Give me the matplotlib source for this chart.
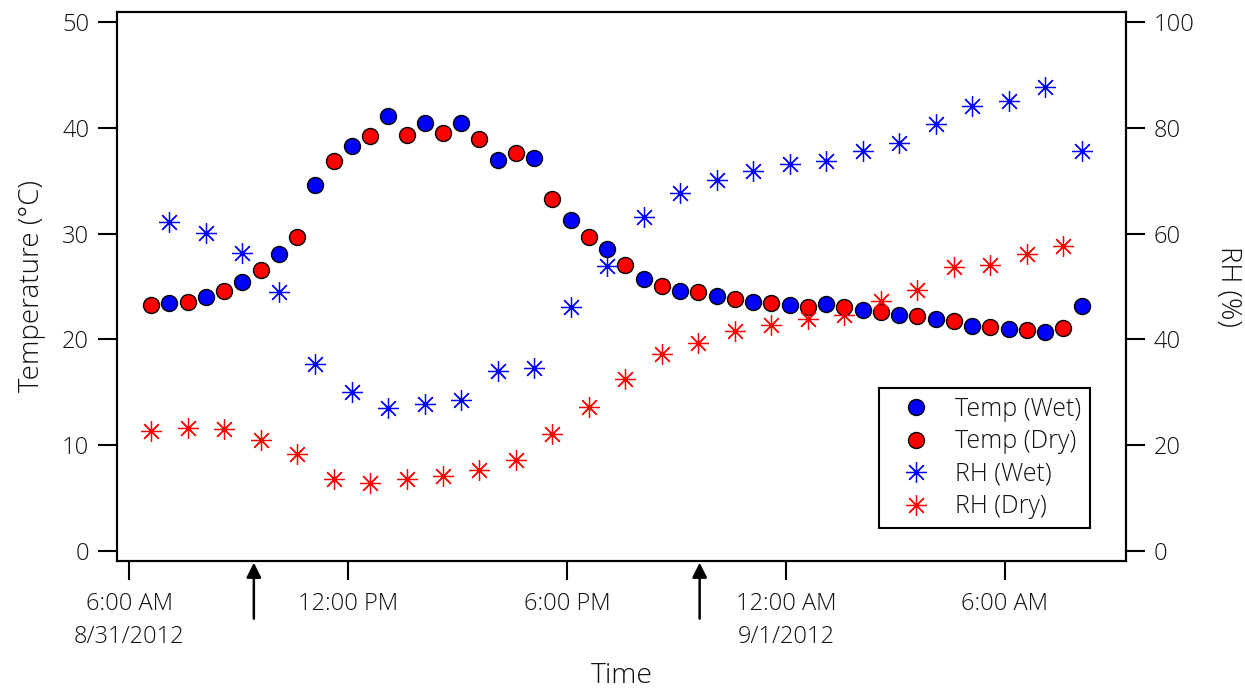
import matplotlib
matplotlib.use("Agg")
import matplotlib.pyplot as plt
import pandas as pd
from matplotlib.lines import Line2D

# ---------------- data ----------------
times_dry = pd.date_range("2012-08-31 06:36", periods=26, freq="1h")
times_wet = pd.date_range("2012-08-31 07:06", periods=26, freq="1h")

temp_wet = [23.4, 24.0, 25.4, 28.1, 34.6, 38.3, 41.1, 40.5, 40.5, 37.0, 37.1, 31.25,
            28.5, 25.7, 24.6, 24.1, 23.55, 23.25, 23.3, 22.8, 22.35, 21.9, 21.3, 21.0,
            20.7, 23.2]
temp_dry = [23.25, 23.5, 24.6, 26.6, 29.7, 36.9, 39.2, 39.3, 39.55, 38.9, 37.65, 33.3,
            29.7, 27.0, 25.05, 24.45, 23.8, 23.4, 23.1, 23.05, 22.6, 22.2, 21.7, 21.15,
            20.9, 21.05]
rh_wet = [62.1, 60.2, 56.4, 49.0, 35.3, 30.1, 27.0, 27.8, 28.5, 34.1, 34.6, 46.1,
          53.9, 63.2, 67.6, 70.1, 71.8, 73.2, 73.7, 75.6, 77.1, 80.8, 84.1, 85.0,
          87.8, 75.7]
rh_dry = [22.7, 23.25, 23.0, 21.0, 18.3, 13.7, 12.85, 13.6, 14.1, 15.3, 17.2, 22.2,
          27.2, 32.6, 37.3, 39.3, 41.5, 42.8, 43.9, 44.6, 47.3, 49.3, 53.6, 54.1,
          56.2, 57.7]

tick_times = pd.to_datetime(["2012-08-31 06:00", "2012-08-31 12:00", "2012-08-31 18:00",
                             "2012-09-01 00:00", "2012-09-01 06:00"])
tick_labels = ["6:00 AM\n8/31/2012", "12:00 PM", "6:00 PM", "12:00 AM\n9/1/2012", "6:00 AM"]
arrow_times = pd.to_datetime(["2012-08-31 09:25", "2012-08-31 21:38"])
x_range = pd.to_datetime(["2012-08-31 05:40", "2012-09-01 09:19"])

# ---------------- style ----------------
plt.rcParams['font.family'] = ['Open Sans', 'DejaVu Sans']
plt.rcParams['font.weight'] = 'light'
txt = '#111111'
plt.rcParams['text.color'] = txt
plt.rcParams['axes.labelcolor'] = txt
plt.rcParams['axes.labelweight'] = 'light'
plt.rcParams['xtick.color'] = 'black'
plt.rcParams['ytick.color'] = 'black'
plt.rcParams['xtick.labelcolor'] = txt
plt.rcParams['ytick.labelcolor'] = txt

BLUE = '#0000ff'
RED = '#ff0000'

fig = plt.figure(figsize=(12.45, 6.9), dpi=100)
ax = fig.add_axes([117/1245, 129/690, 1009/1245, 549/690])
ax2 = ax.twinx()

ms_c = 11.5
ms_s = 15
mew_s = 0.9
star = (8, 2, 0)

ax.plot(times_wet, temp_wet, 'o', ms=ms_c, mfc=BLUE, mec='black', mew=1.0, zorder=3)
ax.plot(times_dry, temp_dry, 'o', ms=ms_c, mfc=RED, mec='black', mew=1.0, zorder=3)
ax2.plot(times_wet, rh_wet, linestyle='none', marker=star, ms=ms_s, mec=BLUE, mew=mew_s)
ax2.plot(times_dry, rh_dry, linestyle='none', marker=star, ms=ms_s, mec=RED, mew=mew_s)

ax.set_xlim(x_range[0], x_range[1])
ax.set_ylim(-0.945, 50.945)
ax2.set_ylim(-1.89, 101.89)

ax.set_yticks([0, 10, 20, 30, 40, 50])
ax2.set_yticks([0, 20, 40, 60, 80, 100])
ax.set_xticks(tick_times)
ax.set_xticklabels(tick_labels, linespacing=1.55)

for a in (ax, ax2):
    for s in a.spines.values():
        s.set_linewidth(1.5)
ax.tick_params(axis='both', which='major', labelsize=17, length=14, width=1.5, pad=6,
               direction='out')
ax.tick_params(axis='x', pad=8)
ax2.tick_params(axis='y', labelsize=17, length=14, width=1.5, pad=6, direction='out')

ax.set_xlabel('Time', fontsize=20.5, va='center')
ax.xaxis.set_label_coords(0.5, -0.21)
ax.set_ylabel('Temperature (°C)', fontsize=20, va='center')
ax.yaxis.set_label_coords(-0.084, 0.5)
ax2.set_ylabel('RH (%)', fontsize=20, rotation=270, va='center')
ax2.yaxis.set_label_coords(1.101, 0.5)

for t in arrow_times:
    ax.annotate('', xy=(t, -0.003), xytext=(t, -0.105),
                xycoords=('data', 'axes fraction'), textcoords=('data', 'axes fraction'),
                arrowprops=dict(arrowstyle='-|>', color='black', lw=1.8,
                                mutation_scale=22, shrinkA=0, shrinkB=0),
                annotation_clip=False)

handles = [
    Line2D([], [], linestyle='none', marker='o', ms=ms_c, mfc=BLUE, mec='black', mew=1.0),
    Line2D([], [], linestyle='none', marker='o', ms=ms_c, mfc=RED, mec='black', mew=1.0),
    Line2D([], [], linestyle='none', marker=star, ms=ms_s, mec=BLUE, mew=mew_s),
    Line2D([], [], linestyle='none', marker=star, ms=ms_s, mec=RED, mew=mew_s),
]
labels = ['Temp (Wet)', 'Temp (Dry)', 'RH (Wet)', 'RH (Dry)']
leg = ax2.legend(handles, labels, loc='lower right', bbox_to_anchor=(0.964, 0.06),
                 fontsize=18, frameon=True, fancybox=False, edgecolor='black',
                 borderaxespad=0, labelspacing=0.3, handletextpad=0.4,
                 borderpad=0.35, handlelength=2.3)
leg.get_frame().set_linewidth(1.5)
leg.get_frame().set_alpha(1)

fig.savefig('out.png', dpi=100)
